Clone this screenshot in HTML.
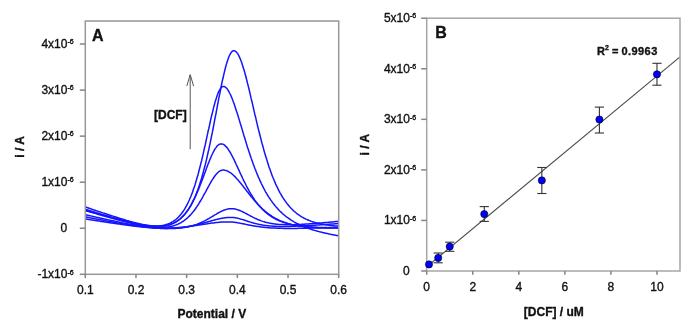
<!DOCTYPE html>
<html><head><meta charset="utf-8"><style>
html,body{margin:0;padding:0;background:#fff;width:698px;height:329px;overflow:hidden}
svg{display:block;will-change:transform}
text{font-family:"Liberation Sans",sans-serif;fill:#111;stroke:#111;stroke-width:0.35px}
</style></head><body>
<svg width="698" height="329" viewBox="0 0 698 329">

<defs><clipPath id="ca"><rect x="85.30" y="21.00" width="253.40" height="253.30"/></clipPath></defs>
<g clip-path="url(#ca)" fill="none" stroke="#1414ff" stroke-width="1.5" stroke-linejoin="round">
<polyline points="82.8,206.1 83.5,206.3 84.2,206.6 84.9,206.8 85.6,207.1 86.4,207.3 87.1,207.6 87.8,207.8 88.5,208.0 89.2,208.3 90.0,208.5 90.7,208.8 91.4,209.0 92.1,209.3 92.8,209.5 93.6,209.7 94.3,210.0 95.0,210.2 95.7,210.5 96.4,210.7 97.2,210.9 97.9,211.2 98.6,211.4 99.3,211.7 100.0,211.9 100.8,212.1 101.5,212.4 102.2,212.6 102.9,212.9 103.6,213.1 104.4,213.3 105.1,213.6 105.8,213.8 106.5,214.0 107.2,214.3 108.0,214.5 108.7,214.7 109.4,215.0 110.1,215.2 110.8,215.4 111.6,215.7 112.3,215.9 113.0,216.1 113.7,216.4 114.4,216.6 115.2,216.8 115.9,217.1 116.6,217.3 117.3,217.5 118.0,217.7 118.8,218.0 119.5,218.2 120.2,218.4 120.9,218.6 121.6,218.9 122.4,219.1 123.1,219.3 123.8,219.5 124.5,219.7 125.2,219.9 126.0,220.2 126.7,220.4 127.4,220.6 128.1,220.8 128.8,221.0 129.6,221.2 130.3,221.4 131.0,221.6 131.7,221.8 132.4,222.0 133.2,222.2 133.9,222.4 134.6,222.6 135.3,222.7 136.0,222.9 136.8,223.1 137.5,223.3 138.2,223.5 138.9,223.6 139.6,223.8 140.4,224.0 141.1,224.1 141.8,224.3 142.5,224.4 143.2,224.6 144.0,224.7 144.7,224.8 145.4,225.0 146.1,225.1 146.8,225.2 147.6,225.3 148.3,225.4 149.0,225.5 149.7,225.6 150.4,225.7 151.2,225.8 151.9,225.9 152.6,226.0 153.3,226.0 154.0,226.1 154.8,226.1 155.5,226.1 156.2,226.2 156.9,226.2 157.6,226.2 158.4,226.2 159.1,226.2 159.8,226.2 160.5,226.1 161.2,226.1 162.0,226.0 162.7,226.0 163.4,225.9 164.1,225.8 164.8,225.7 165.6,225.5 166.3,225.4 167.0,225.3 167.7,225.1 168.4,224.9 169.2,224.7 169.9,224.5 170.6,224.2 171.3,224.0 172.0,223.7 172.8,223.4 173.5,223.1 174.2,222.7 174.9,222.3 175.6,222.0 176.4,221.5 177.1,221.1 177.8,220.6 178.5,220.1 179.2,219.6 180.0,219.0 180.7,218.4 181.4,217.8 182.1,217.1 182.8,216.4 183.6,215.6 184.3,214.8 185.0,214.0 185.7,213.1 186.4,212.2 187.2,211.2 187.9,210.2 188.6,209.1 189.3,208.0 190.0,206.8 190.8,205.5 191.5,204.2 192.2,202.8 192.9,201.4 193.6,199.9 194.4,198.3 195.1,196.7 195.8,195.0 196.5,193.2 197.2,191.3 198.0,189.3 198.7,187.3 199.4,185.2 200.1,183.0 200.8,180.7 201.6,178.3 202.3,175.8 203.0,173.2 203.7,170.6 204.4,167.8 205.2,165.0 205.9,162.1 206.6,159.1 207.3,156.0 208.0,152.8 208.8,149.6 209.5,146.2 210.2,142.8 210.9,139.3 211.6,135.8 212.4,132.2 213.1,128.5 213.8,124.8 214.5,121.0 215.2,117.3 216.0,113.5 216.7,109.7 217.4,105.9 218.1,102.1 218.8,98.4 219.6,94.7 220.3,91.0 221.0,87.4 221.7,83.9 222.4,80.5 223.2,77.3 223.9,74.1 224.6,71.1 225.3,68.2 226.0,65.5 226.8,63.0 227.5,60.7 228.2,58.7 228.9,56.8 229.6,55.2 230.4,53.8 231.1,52.6 231.8,51.8 232.5,51.1 233.2,50.8 234.0,50.7 234.7,50.9 235.4,51.2 236.1,51.8 236.8,52.6 237.6,53.6 238.3,54.7 239.0,56.1 239.7,57.6 240.4,59.3 241.2,61.2 241.9,63.2 242.6,65.4 243.3,67.7 244.0,70.1 244.8,72.6 245.5,75.2 246.2,78.0 246.9,80.8 247.6,83.6 248.4,86.6 249.1,89.5 249.8,92.6 250.5,95.6 251.2,98.7 252.0,101.8 252.7,104.9 253.4,108.0 254.1,111.1 254.8,114.2 255.6,117.2 256.3,120.3 257.0,123.3 257.7,126.3 258.4,129.2 259.2,132.2 259.9,135.0 260.6,137.8 261.3,140.6 262.0,143.3 262.8,146.0 263.5,148.6 264.2,151.2 264.9,153.7 265.6,156.1 266.4,158.5 267.1,160.8 267.8,163.0 268.5,165.2 269.2,167.4 270.0,169.5 270.7,171.5 271.4,173.5 272.1,175.4 272.8,177.2 273.6,179.0 274.3,180.7 275.0,182.4 275.7,184.1 276.4,185.6 277.2,187.2 277.9,188.6 278.6,190.1 279.3,191.4 280.0,192.8 280.8,194.1 281.5,195.3 282.2,196.5 282.9,197.7 283.6,198.8 284.4,199.9 285.1,200.9 285.8,201.9 286.5,202.9 287.2,203.8 288.0,204.7 288.7,205.6 289.4,206.4 290.1,207.2 290.8,208.0 291.6,208.8 292.3,209.5 293.0,210.2 293.7,210.9 294.4,211.5 295.2,212.1 295.9,212.7 296.6,213.3 297.3,213.8 298.0,214.4 298.8,214.9 299.5,215.4 300.2,215.9 300.9,216.3 301.6,216.8 302.4,217.2 303.1,217.6 303.8,218.0 304.5,218.4 305.2,218.7 306.0,219.1 306.7,219.4 307.4,219.7 308.1,220.0 308.8,220.3 309.6,220.6 310.3,220.9 311.0,221.2 311.7,221.4 312.4,221.7 313.2,221.9 313.9,222.1 314.6,222.3 315.3,222.6 316.0,222.8 316.8,222.9 317.5,223.1 318.2,223.3 318.9,223.5 319.6,223.6 320.4,223.8 321.1,223.9 321.8,224.1 322.5,224.2 323.2,224.4 324.0,224.5 324.7,224.6 325.4,224.7 326.1,224.8 326.8,224.9 327.6,225.1 328.3,225.1 329.0,225.2 329.7,225.3 330.4,225.4 331.2,225.5 331.9,225.6 332.6,225.7 333.3,225.7 334.0,225.8 334.8,225.9 335.5,225.9 336.2,226.0 336.9,226.0 337.6,226.1 338.4,226.1 339.1,226.2 339.8,226.2 340.5,226.3 341.2,226.3"/>
<polyline points="82.8,209.6 83.5,209.8 84.2,210.0 84.9,210.2 85.6,210.4 86.4,210.6 87.1,210.8 87.8,211.0 88.5,211.2 89.2,211.3 90.0,211.5 90.7,211.7 91.4,211.9 92.1,212.1 92.8,212.3 93.6,212.5 94.3,212.7 95.0,212.9 95.7,213.1 96.4,213.3 97.2,213.5 97.9,213.7 98.6,213.9 99.3,214.1 100.0,214.3 100.8,214.5 101.5,214.7 102.2,214.9 102.9,215.1 103.6,215.3 104.4,215.5 105.1,215.7 105.8,215.8 106.5,216.0 107.2,216.2 108.0,216.4 108.7,216.6 109.4,216.8 110.1,217.0 110.8,217.2 111.6,217.4 112.3,217.6 113.0,217.8 113.7,218.0 114.4,218.2 115.2,218.4 115.9,218.6 116.6,218.8 117.3,219.0 118.0,219.2 118.8,219.3 119.5,219.5 120.2,219.7 120.9,219.9 121.6,220.1 122.4,220.3 123.1,220.5 123.8,220.7 124.5,220.9 125.2,221.0 126.0,221.2 126.7,221.4 127.4,221.6 128.1,221.8 128.8,221.9 129.6,222.1 130.3,222.3 131.0,222.5 131.7,222.6 132.4,222.8 133.2,223.0 133.9,223.1 134.6,223.3 135.3,223.4 136.0,223.6 136.8,223.8 137.5,223.9 138.2,224.1 138.9,224.2 139.6,224.3 140.4,224.5 141.1,224.6 141.8,224.7 142.5,224.9 143.2,225.0 144.0,225.1 144.7,225.2 145.4,225.3 146.1,225.4 146.8,225.5 147.6,225.6 148.3,225.7 149.0,225.7 149.7,225.8 150.4,225.9 151.2,225.9 151.9,226.0 152.6,226.0 153.3,226.0 154.0,226.1 154.8,226.1 155.5,226.1 156.2,226.1 156.9,226.0 157.6,226.0 158.4,226.0 159.1,225.9 159.8,225.8 160.5,225.8 161.2,225.7 162.0,225.6 162.7,225.4 163.4,225.3 164.1,225.1 164.8,225.0 165.6,224.8 166.3,224.5 167.0,224.3 167.7,224.1 168.4,223.8 169.2,223.5 169.9,223.2 170.6,222.8 171.3,222.4 172.0,222.0 172.8,221.6 173.5,221.2 174.2,220.7 174.9,220.1 175.6,219.6 176.4,219.0 177.1,218.4 177.8,217.7 178.5,217.0 179.2,216.2 180.0,215.4 180.7,214.6 181.4,213.7 182.1,212.7 182.8,211.7 183.6,210.7 184.3,209.6 185.0,208.4 185.7,207.1 186.4,205.8 187.2,204.5 187.9,203.0 188.6,201.5 189.3,200.0 190.0,198.3 190.8,196.6 191.5,194.8 192.2,192.9 192.9,190.9 193.6,188.8 194.4,186.7 195.1,184.5 195.8,182.1 196.5,179.7 197.2,177.3 198.0,174.7 198.7,172.0 199.4,169.3 200.1,166.5 200.8,163.6 201.6,160.7 202.3,157.6 203.0,154.6 203.7,151.4 204.4,148.2 205.2,145.0 205.9,141.7 206.6,138.4 207.3,135.1 208.0,131.8 208.8,128.5 209.5,125.3 210.2,122.0 210.9,118.8 211.6,115.7 212.4,112.7 213.1,109.7 213.8,106.9 214.5,104.2 215.2,101.6 216.0,99.2 216.7,97.0 217.4,94.9 218.1,93.1 218.8,91.4 219.6,90.0 220.3,88.8 221.0,87.8 221.7,87.1 222.4,86.7 223.2,86.4 223.9,86.5 224.6,86.7 225.3,87.1 226.0,87.7 226.8,88.4 227.5,89.4 228.2,90.4 228.9,91.6 229.6,93.0 230.4,94.5 231.1,96.1 231.8,97.8 232.5,99.6 233.2,101.5 234.0,103.5 234.7,105.5 235.4,107.7 236.1,109.9 236.8,112.1 237.6,114.4 238.3,116.7 239.0,119.1 239.7,121.4 240.4,123.8 241.2,126.2 241.9,128.6 242.6,131.0 243.3,133.4 244.0,135.8 244.8,138.2 245.5,140.5 246.2,142.9 246.9,145.2 247.6,147.4 248.4,149.7 249.1,151.9 249.8,154.1 250.5,156.2 251.2,158.3 252.0,160.4 252.7,162.4 253.4,164.4 254.1,166.3 254.8,168.2 255.6,170.1 256.3,171.9 257.0,173.7 257.7,175.4 258.4,177.1 259.2,178.8 259.9,180.4 260.6,181.9 261.3,183.5 262.0,184.9 262.8,186.4 263.5,187.8 264.2,189.2 264.9,190.5 265.6,191.8 266.4,193.1 267.1,194.3 267.8,195.5 268.5,196.6 269.2,197.7 270.0,198.8 270.7,199.9 271.4,200.9 272.1,201.9 272.8,202.9 273.6,203.8 274.3,204.7 275.0,205.6 275.7,206.5 276.4,207.3 277.2,208.1 277.9,208.9 278.6,209.7 279.3,210.5 280.0,211.2 280.8,211.9 281.5,212.6 282.2,213.2 282.9,213.9 283.6,214.5 284.4,215.1 285.1,215.7 285.8,216.3 286.5,216.8 287.2,217.4 288.0,217.9 288.7,218.4 289.4,218.9 290.1,219.4 290.8,219.9 291.6,220.4 292.3,220.8 293.0,221.2 293.7,221.7 294.4,222.1 295.2,222.5 295.9,222.9 296.6,223.3 297.3,223.6 298.0,224.0 298.8,224.3 299.5,224.7 300.2,225.0 300.9,225.4 301.6,225.7 302.4,226.0 303.1,226.3 303.8,226.6 304.5,226.9 305.2,227.2 306.0,227.5 306.7,227.7 307.4,228.0 308.1,228.3 308.8,228.5 309.6,228.8 310.3,229.0 311.0,229.2 311.7,229.5 312.4,229.7 313.2,229.9 313.9,230.2 314.6,230.4 315.3,230.6 316.0,230.8 316.8,231.0 317.5,231.2 318.2,231.4 318.9,231.6 319.6,231.8 320.4,232.0 321.1,232.1 321.8,232.3 322.5,232.5 323.2,232.7 324.0,232.8 324.7,233.0 325.4,233.2 326.1,233.3 326.8,233.5 327.6,233.6 328.3,233.8 329.0,234.0 329.7,234.1 330.4,234.3 331.2,234.4 331.9,234.5 332.6,234.7 333.3,234.8 334.0,235.0 334.8,235.1 335.5,235.2 336.2,235.4 336.9,235.5 337.6,235.6 338.4,235.8 339.1,235.9 339.8,236.0 340.5,236.1 341.2,236.3"/>
<polyline points="82.8,208.5 83.5,208.7 84.2,208.9 84.9,209.1 85.6,209.4 86.4,209.6 87.1,209.8 87.8,210.0 88.5,210.2 89.2,210.5 90.0,210.7 90.7,210.9 91.4,211.1 92.1,211.3 92.8,211.6 93.6,211.8 94.3,212.0 95.0,212.2 95.7,212.4 96.4,212.7 97.2,212.9 97.9,213.1 98.6,213.3 99.3,213.5 100.0,213.8 100.8,214.0 101.5,214.2 102.2,214.4 102.9,214.6 103.6,214.8 104.4,215.1 105.1,215.3 105.8,215.5 106.5,215.7 107.2,215.9 108.0,216.1 108.7,216.3 109.4,216.5 110.1,216.8 110.8,217.0 111.6,217.2 112.3,217.4 113.0,217.6 113.7,217.8 114.4,218.0 115.2,218.2 115.9,218.4 116.6,218.6 117.3,218.9 118.0,219.1 118.8,219.3 119.5,219.5 120.2,219.7 120.9,219.9 121.6,220.1 122.4,220.3 123.1,220.5 123.8,220.7 124.5,220.9 125.2,221.1 126.0,221.2 126.7,221.4 127.4,221.6 128.1,221.8 128.8,222.0 129.6,222.2 130.3,222.4 131.0,222.6 131.7,222.7 132.4,222.9 133.2,223.1 133.9,223.3 134.6,223.4 135.3,223.6 136.0,223.8 136.8,223.9 137.5,224.1 138.2,224.2 138.9,224.4 139.6,224.6 140.4,224.7 141.1,224.8 141.8,225.0 142.5,225.1 143.2,225.2 144.0,225.4 144.7,225.5 145.4,225.6 146.1,225.7 146.8,225.8 147.6,225.9 148.3,226.0 149.0,226.1 149.7,226.2 150.4,226.3 151.2,226.3 151.9,226.4 152.6,226.5 153.3,226.5 154.0,226.6 154.8,226.6 155.5,226.6 156.2,226.6 156.9,226.6 157.6,226.6 158.4,226.6 159.1,226.6 159.8,226.6 160.5,226.5 161.2,226.5 162.0,226.4 162.7,226.3 163.4,226.2 164.1,226.1 164.8,226.0 165.6,225.9 166.3,225.7 167.0,225.5 167.7,225.4 168.4,225.2 169.2,224.9 169.9,224.7 170.6,224.5 171.3,224.2 172.0,223.9 172.8,223.6 173.5,223.2 174.2,222.9 174.9,222.5 175.6,222.1 176.4,221.6 177.1,221.2 177.8,220.7 178.5,220.1 179.2,219.6 180.0,219.0 180.7,218.4 181.4,217.7 182.1,217.0 182.8,216.3 183.6,215.5 184.3,214.7 185.0,213.9 185.7,213.0 186.4,212.0 187.2,211.1 187.9,210.0 188.6,209.0 189.3,207.9 190.0,206.7 190.8,205.5 191.5,204.2 192.2,202.9 192.9,201.5 193.6,200.1 194.4,198.7 195.1,197.2 195.8,195.6 196.5,194.0 197.2,192.4 198.0,190.7 198.7,188.9 199.4,187.2 200.1,185.3 200.8,183.5 201.6,181.6 202.3,179.7 203.0,177.8 203.7,175.9 204.4,173.9 205.2,172.0 205.9,170.0 206.6,168.1 207.3,166.2 208.0,164.3 208.8,162.4 209.5,160.6 210.2,158.9 210.9,157.2 211.6,155.5 212.4,154.0 213.1,152.5 213.8,151.1 214.5,149.8 215.2,148.6 216.0,147.6 216.7,146.6 217.4,145.8 218.1,145.2 218.8,144.6 219.6,144.2 220.3,144.0 221.0,143.9 221.7,143.9 222.4,144.1 223.2,144.3 223.9,144.7 224.6,145.2 225.3,145.9 226.0,146.6 226.8,147.4 227.5,148.3 228.2,149.3 228.9,150.4 229.6,151.5 230.4,152.7 231.1,154.0 231.8,155.4 232.5,156.7 233.2,158.2 234.0,159.6 234.7,161.1 235.4,162.6 236.1,164.2 236.8,165.7 237.6,167.3 238.3,168.9 239.0,170.4 239.7,172.0 240.4,173.6 241.2,175.1 241.9,176.6 242.6,178.2 243.3,179.7 244.0,181.1 244.8,182.6 245.5,184.0 246.2,185.5 246.9,186.8 247.6,188.2 248.4,189.5 249.1,190.8 249.8,192.1 250.5,193.3 251.2,194.5 252.0,195.7 252.7,196.8 253.4,197.9 254.1,199.0 254.8,200.1 255.6,201.1 256.3,202.1 257.0,203.0 257.7,203.9 258.4,204.8 259.2,205.7 259.9,206.5 260.6,207.3 261.3,208.1 262.0,208.9 262.8,209.6 263.5,210.3 264.2,211.0 264.9,211.7 265.6,212.3 266.4,212.9 267.1,213.5 267.8,214.1 268.5,214.6 269.2,215.1 270.0,215.6 270.7,216.1 271.4,216.6 272.1,217.1 272.8,217.5 273.6,217.9 274.3,218.3 275.0,218.7 275.7,219.1 276.4,219.5 277.2,219.8 277.9,220.1 278.6,220.5 279.3,220.8 280.0,221.1 280.8,221.4 281.5,221.6 282.2,221.9 282.9,222.2 283.6,222.4 284.4,222.6 285.1,222.9 285.8,223.1 286.5,223.3 287.2,223.5 288.0,223.7 288.7,223.9 289.4,224.1 290.1,224.2 290.8,224.4 291.6,224.6 292.3,224.7 293.0,224.8 293.7,225.0 294.4,225.1 295.2,225.3 295.9,225.4 296.6,225.5 297.3,225.6 298.0,225.7 298.8,225.8 299.5,225.9 300.2,226.0 300.9,226.1 301.6,226.2 302.4,226.3 303.1,226.4 303.8,226.4 304.5,226.5 305.2,226.6 306.0,226.7 306.7,226.7 307.4,226.8 308.1,226.8 308.8,226.9 309.6,227.0 310.3,227.0 311.0,227.1 311.7,227.1 312.4,227.1 313.2,227.2 313.9,227.2 314.6,227.3 315.3,227.3 316.0,227.3 316.8,227.4 317.5,227.4 318.2,227.4 318.9,227.4 319.6,227.5 320.4,227.5 321.1,227.5 321.8,227.5 322.5,227.6 323.2,227.6 324.0,227.6 324.7,227.6 325.4,227.6 326.1,227.6 326.8,227.6 327.6,227.7 328.3,227.7 329.0,227.7 329.7,227.7 330.4,227.7 331.2,227.7 331.9,227.7 332.6,227.7 333.3,227.7 334.0,227.7 334.8,227.7 335.5,227.7 336.2,227.7 336.9,227.7 337.6,227.7 338.4,227.7 339.1,227.7 339.8,227.7 340.5,227.7 341.2,227.7"/>
<polyline points="82.8,209.9 83.5,210.1 84.2,210.3 84.9,210.5 85.6,210.7 86.4,210.9 87.1,211.2 87.8,211.4 88.5,211.6 89.2,211.8 90.0,212.0 90.7,212.2 91.4,212.4 92.1,212.6 92.8,212.8 93.6,213.0 94.3,213.2 95.0,213.4 95.7,213.6 96.4,213.8 97.2,214.0 97.9,214.3 98.6,214.5 99.3,214.7 100.0,214.9 100.8,215.1 101.5,215.3 102.2,215.5 102.9,215.7 103.6,215.9 104.4,216.1 105.1,216.3 105.8,216.5 106.5,216.7 107.2,216.9 108.0,217.1 108.7,217.3 109.4,217.5 110.1,217.7 110.8,217.9 111.6,218.1 112.3,218.3 113.0,218.5 113.7,218.7 114.4,218.9 115.2,219.1 115.9,219.3 116.6,219.5 117.3,219.7 118.0,219.9 118.8,220.1 119.5,220.2 120.2,220.4 120.9,220.6 121.6,220.8 122.4,221.0 123.1,221.2 123.8,221.4 124.5,221.6 125.2,221.7 126.0,221.9 126.7,222.1 127.4,222.3 128.1,222.5 128.8,222.7 129.6,222.8 130.3,223.0 131.0,223.2 131.7,223.4 132.4,223.5 133.2,223.7 133.9,223.9 134.6,224.0 135.3,224.2 136.0,224.3 136.8,224.5 137.5,224.7 138.2,224.8 138.9,225.0 139.6,225.1 140.4,225.3 141.1,225.4 141.8,225.5 142.5,225.7 143.2,225.8 144.0,225.9 144.7,226.1 145.4,226.2 146.1,226.3 146.8,226.4 147.6,226.5 148.3,226.6 149.0,226.7 149.7,226.8 150.4,226.9 151.2,227.0 151.9,227.1 152.6,227.1 153.3,227.2 154.0,227.3 154.8,227.3 155.5,227.4 156.2,227.4 156.9,227.5 157.6,227.5 158.4,227.5 159.1,227.5 159.8,227.5 160.5,227.5 161.2,227.5 162.0,227.5 162.7,227.5 163.4,227.4 164.1,227.4 164.8,227.3 165.6,227.3 166.3,227.2 167.0,227.1 167.7,227.0 168.4,226.9 169.2,226.8 169.9,226.7 170.6,226.5 171.3,226.3 172.0,226.2 172.8,226.0 173.5,225.8 174.2,225.6 174.9,225.3 175.6,225.1 176.4,224.8 177.1,224.5 177.8,224.2 178.5,223.9 179.2,223.5 180.0,223.2 180.7,222.8 181.4,222.4 182.1,221.9 182.8,221.5 183.6,221.0 184.3,220.5 185.0,219.9 185.7,219.4 186.4,218.8 187.2,218.2 187.9,217.5 188.6,216.8 189.3,216.1 190.0,215.4 190.8,214.6 191.5,213.8 192.2,212.9 192.9,212.1 193.6,211.2 194.4,210.2 195.1,209.3 195.8,208.2 196.5,207.2 197.2,206.1 198.0,205.0 198.7,203.9 199.4,202.7 200.1,201.5 200.8,200.3 201.6,199.1 202.3,197.8 203.0,196.5 203.7,195.2 204.4,193.9 205.2,192.6 205.9,191.3 206.6,189.9 207.3,188.6 208.0,187.3 208.8,185.9 209.5,184.6 210.2,183.4 210.9,182.1 211.6,180.9 212.4,179.7 213.1,178.6 213.8,177.5 214.5,176.5 215.2,175.5 216.0,174.6 216.7,173.7 217.4,173.0 218.1,172.3 218.8,171.7 219.6,171.2 220.3,170.8 221.0,170.5 221.7,170.3 222.4,170.1 223.2,170.1 223.9,170.1 224.6,170.2 225.3,170.4 226.0,170.6 226.8,170.8 227.5,171.1 228.2,171.4 228.9,171.8 229.6,172.3 230.4,172.7 231.1,173.2 231.8,173.8 232.5,174.4 233.2,175.0 234.0,175.7 234.7,176.4 235.4,177.1 236.1,177.9 236.8,178.7 237.6,179.5 238.3,180.3 239.0,181.2 239.7,182.0 240.4,182.9 241.2,183.8 241.9,184.7 242.6,185.6 243.3,186.5 244.0,187.5 244.8,188.4 245.5,189.3 246.2,190.3 246.9,191.2 247.6,192.1 248.4,193.0 249.1,194.0 249.8,194.9 250.5,195.8 251.2,196.7 252.0,197.5 252.7,198.4 253.4,199.3 254.1,200.1 254.8,201.0 255.6,201.8 256.3,202.6 257.0,203.4 257.7,204.2 258.4,204.9 259.2,205.7 259.9,206.4 260.6,207.1 261.3,207.8 262.0,208.5 262.8,209.2 263.5,209.8 264.2,210.4 264.9,211.1 265.6,211.7 266.4,212.2 267.1,212.8 267.8,213.4 268.5,213.9 269.2,214.4 270.0,214.9 270.7,215.4 271.4,215.9 272.1,216.4 272.8,216.8 273.6,217.2 274.3,217.7 275.0,218.1 275.7,218.5 276.4,218.8 277.2,219.2 277.9,219.6 278.6,219.9 279.3,220.3 280.0,220.6 280.8,220.9 281.5,221.2 282.2,221.5 282.9,221.8 283.6,222.0 284.4,222.3 285.1,222.5 285.8,222.8 286.5,223.0 287.2,223.2 288.0,223.5 288.7,223.7 289.4,223.9 290.1,224.1 290.8,224.2 291.6,224.4 292.3,224.6 293.0,224.8 293.7,224.9 294.4,225.1 295.2,225.2 295.9,225.4 296.6,225.5 297.3,225.6 298.0,225.7 298.8,225.9 299.5,226.0 300.2,226.1 300.9,226.2 301.6,226.3 302.4,226.4 303.1,226.5 303.8,226.6 304.5,226.7 305.2,226.7 306.0,226.8 306.7,226.9 307.4,227.0 308.1,227.0 308.8,227.1 309.6,227.1 310.3,227.2 311.0,227.3 311.7,227.3 312.4,227.4 313.2,227.4 313.9,227.5 314.6,227.5 315.3,227.5 316.0,227.6 316.8,227.6 317.5,227.6 318.2,227.7 318.9,227.7 319.6,227.7 320.4,227.7 321.1,227.8 321.8,227.8 322.5,227.8 323.2,227.8 324.0,227.9 324.7,227.9 325.4,227.9 326.1,227.9 326.8,227.9 327.6,227.9 328.3,227.9 329.0,227.9 329.7,227.9 330.4,227.9 331.2,227.9 331.9,228.0 332.6,228.0 333.3,228.0 334.0,228.0 334.8,228.0 335.5,228.0 336.2,228.0 336.9,227.9 337.6,227.9 338.4,227.9 339.1,227.9 339.8,227.9 340.5,227.9 341.2,227.9"/>
<polyline points="82.8,214.0 83.5,214.2 84.2,214.4 84.9,214.6 85.6,214.7 86.4,214.9 87.1,215.1 87.8,215.2 88.5,215.4 89.2,215.6 90.0,215.7 90.7,215.9 91.4,216.1 92.1,216.2 92.8,216.4 93.6,216.5 94.3,216.7 95.0,216.9 95.7,217.0 96.4,217.2 97.2,217.4 97.9,217.5 98.6,217.7 99.3,217.8 100.0,218.0 100.8,218.2 101.5,218.3 102.2,218.5 102.9,218.7 103.6,218.8 104.4,219.0 105.1,219.1 105.8,219.3 106.5,219.4 107.2,219.6 108.0,219.8 108.7,219.9 109.4,220.1 110.1,220.2 110.8,220.4 111.6,220.5 112.3,220.7 113.0,220.8 113.7,221.0 114.4,221.1 115.2,221.3 115.9,221.4 116.6,221.6 117.3,221.7 118.0,221.9 118.8,222.0 119.5,222.2 120.2,222.3 120.9,222.5 121.6,222.6 122.4,222.8 123.1,222.9 123.8,223.1 124.5,223.2 125.2,223.3 126.0,223.5 126.7,223.6 127.4,223.8 128.1,223.9 128.8,224.0 129.6,224.2 130.3,224.3 131.0,224.5 131.7,224.6 132.4,224.7 133.2,224.8 133.9,225.0 134.6,225.1 135.3,225.2 136.0,225.4 136.8,225.5 137.5,225.6 138.2,225.7 138.9,225.8 139.6,226.0 140.4,226.1 141.1,226.2 141.8,226.3 142.5,226.4 143.2,226.5 144.0,226.6 144.7,226.7 145.4,226.8 146.1,226.9 146.8,227.0 147.6,227.1 148.3,227.2 149.0,227.3 149.7,227.4 150.4,227.5 151.2,227.6 151.9,227.6 152.6,227.7 153.3,227.8 154.0,227.9 154.8,227.9 155.5,228.0 156.2,228.1 156.9,228.1 157.6,228.2 158.4,228.2 159.1,228.3 159.8,228.3 160.5,228.4 161.2,228.4 162.0,228.4 162.7,228.5 163.4,228.5 164.1,228.5 164.8,228.6 165.6,228.6 166.3,228.6 167.0,228.6 167.7,228.6 168.4,228.6 169.2,228.6 169.9,228.6 170.6,228.6 171.3,228.6 172.0,228.6 172.8,228.5 173.5,228.5 174.2,228.5 174.9,228.4 175.6,228.4 176.4,228.3 177.1,228.3 177.8,228.2 178.5,228.2 179.2,228.1 180.0,228.0 180.7,228.0 181.4,227.9 182.1,227.8 182.8,227.7 183.6,227.6 184.3,227.5 185.0,227.4 185.7,227.2 186.4,227.1 187.2,227.0 187.9,226.8 188.6,226.7 189.3,226.5 190.0,226.3 190.8,226.1 191.5,226.0 192.2,225.8 192.9,225.6 193.6,225.3 194.4,225.1 195.1,224.9 195.8,224.6 196.5,224.4 197.2,224.1 198.0,223.9 198.7,223.6 199.4,223.3 200.1,223.0 200.8,222.7 201.6,222.3 202.3,222.0 203.0,221.7 203.7,221.3 204.4,220.9 205.2,220.6 205.9,220.2 206.6,219.8 207.3,219.4 208.0,219.0 208.8,218.6 209.5,218.2 210.2,217.7 210.9,217.3 211.6,216.9 212.4,216.4 213.1,216.0 213.8,215.6 214.5,215.1 215.2,214.7 216.0,214.3 216.7,213.8 217.4,213.4 218.1,213.0 218.8,212.6 219.6,212.2 220.3,211.8 221.0,211.5 221.7,211.1 222.4,210.8 223.2,210.5 223.9,210.2 224.6,209.9 225.3,209.7 226.0,209.5 226.8,209.3 227.5,209.1 228.2,209.0 228.9,208.8 229.6,208.7 230.4,208.7 231.1,208.7 231.8,208.7 232.5,208.7 233.2,208.8 234.0,208.8 234.7,209.0 235.4,209.1 236.1,209.3 236.8,209.5 237.6,209.7 238.3,209.9 239.0,210.2 239.7,210.5 240.4,210.8 241.2,211.1 241.9,211.4 242.6,211.8 243.3,212.1 244.0,212.5 244.8,212.9 245.5,213.2 246.2,213.6 246.9,214.0 247.6,214.4 248.4,214.8 249.1,215.2 249.8,215.6 250.5,216.0 251.2,216.3 252.0,216.7 252.7,217.1 253.4,217.4 254.1,217.8 254.8,218.2 255.6,218.5 256.3,218.8 257.0,219.1 257.7,219.5 258.4,219.8 259.2,220.0 259.9,220.3 260.6,220.6 261.3,220.9 262.0,221.1 262.8,221.4 263.5,221.6 264.2,221.8 264.9,222.0 265.6,222.2 266.4,222.4 267.1,222.6 267.8,222.7 268.5,222.9 269.2,223.1 270.0,223.2 270.7,223.3 271.4,223.5 272.1,223.6 272.8,223.7 273.6,223.8 274.3,223.9 275.0,224.0 275.7,224.1 276.4,224.2 277.2,224.2 277.9,224.3 278.6,224.4 279.3,224.4 280.0,224.5 280.8,224.5 281.5,224.5 282.2,224.6 282.9,224.6 283.6,224.6 284.4,224.7 285.1,224.7 285.8,224.7 286.5,224.7 287.2,224.7 288.0,224.7 288.7,224.7 289.4,224.7 290.1,224.7 290.8,224.7 291.6,224.7 292.3,224.7 293.0,224.7 293.7,224.7 294.4,224.6 295.2,224.6 295.9,224.6 296.6,224.6 297.3,224.5 298.0,224.5 298.8,224.5 299.5,224.4 300.2,224.4 300.9,224.4 301.6,224.3 302.4,224.3 303.1,224.3 303.8,224.2 304.5,224.2 305.2,224.1 306.0,224.1 306.7,224.0 307.4,224.0 308.1,223.9 308.8,223.9 309.6,223.8 310.3,223.8 311.0,223.7 311.7,223.7 312.4,223.6 313.2,223.6 313.9,223.5 314.6,223.5 315.3,223.4 316.0,223.4 316.8,223.3 317.5,223.3 318.2,223.2 318.9,223.1 319.6,223.1 320.4,223.0 321.1,223.0 321.8,222.9 322.5,222.8 323.2,222.8 324.0,222.7 324.7,222.6 325.4,222.6 326.1,222.5 326.8,222.5 327.6,222.4 328.3,222.3 329.0,222.3 329.7,222.2 330.4,222.1 331.2,222.1 331.9,222.0 332.6,221.9 333.3,221.9 334.0,221.8 334.8,221.7 335.5,221.6 336.2,221.6 336.9,221.5 337.6,221.4 338.4,221.4 339.1,221.3 339.8,221.2 340.5,221.1 341.2,221.1"/>
<polyline points="82.8,216.3 83.5,216.5 84.2,216.6 84.9,216.8 85.6,216.9 86.4,217.0 87.1,217.2 87.8,217.3 88.5,217.5 89.2,217.6 90.0,217.8 90.7,217.9 91.4,218.0 92.1,218.2 92.8,218.3 93.6,218.5 94.3,218.6 95.0,218.7 95.7,218.9 96.4,219.0 97.2,219.2 97.9,219.3 98.6,219.4 99.3,219.6 100.0,219.7 100.8,219.8 101.5,220.0 102.2,220.1 102.9,220.2 103.6,220.4 104.4,220.5 105.1,220.6 105.8,220.8 106.5,220.9 107.2,221.1 108.0,221.2 108.7,221.3 109.4,221.4 110.1,221.6 110.8,221.7 111.6,221.8 112.3,222.0 113.0,222.1 113.7,222.2 114.4,222.4 115.2,222.5 115.9,222.6 116.6,222.7 117.3,222.9 118.0,223.0 118.8,223.1 119.5,223.2 120.2,223.4 120.9,223.5 121.6,223.6 122.4,223.7 123.1,223.9 123.8,224.0 124.5,224.1 125.2,224.2 126.0,224.3 126.7,224.5 127.4,224.6 128.1,224.7 128.8,224.8 129.6,224.9 130.3,225.0 131.0,225.1 131.7,225.3 132.4,225.4 133.2,225.5 133.9,225.6 134.6,225.7 135.3,225.8 136.0,225.9 136.8,226.0 137.5,226.1 138.2,226.2 138.9,226.3 139.6,226.4 140.4,226.5 141.1,226.6 141.8,226.7 142.5,226.8 143.2,226.9 144.0,226.9 144.7,227.0 145.4,227.1 146.1,227.2 146.8,227.3 147.6,227.3 148.3,227.4 149.0,227.5 149.7,227.6 150.4,227.6 151.2,227.7 151.9,227.7 152.6,227.8 153.3,227.9 154.0,227.9 154.8,228.0 155.5,228.0 156.2,228.1 156.9,228.1 157.6,228.1 158.4,228.2 159.1,228.2 159.8,228.2 160.5,228.3 161.2,228.3 162.0,228.3 162.7,228.3 163.4,228.3 164.1,228.3 164.8,228.4 165.6,228.4 166.3,228.4 167.0,228.4 167.7,228.4 168.4,228.3 169.2,228.3 169.9,228.3 170.6,228.3 171.3,228.3 172.0,228.2 172.8,228.2 173.5,228.2 174.2,228.1 174.9,228.1 175.6,228.0 176.4,228.0 177.1,227.9 177.8,227.9 178.5,227.8 179.2,227.8 180.0,227.7 180.7,227.6 181.4,227.5 182.1,227.5 182.8,227.4 183.6,227.3 184.3,227.2 185.0,227.1 185.7,227.0 186.4,226.9 187.2,226.8 187.9,226.6 188.6,226.5 189.3,226.4 190.0,226.3 190.8,226.1 191.5,226.0 192.2,225.8 192.9,225.7 193.6,225.6 194.4,225.4 195.1,225.2 195.8,225.1 196.5,224.9 197.2,224.7 198.0,224.6 198.7,224.4 199.4,224.2 200.1,224.0 200.8,223.8 201.6,223.6 202.3,223.4 203.0,223.2 203.7,223.0 204.4,222.8 205.2,222.6 205.9,222.4 206.6,222.2 207.3,222.0 208.0,221.8 208.8,221.6 209.5,221.4 210.2,221.2 210.9,221.0 211.6,220.8 212.4,220.6 213.1,220.4 213.8,220.2 214.5,220.0 215.2,219.8 216.0,219.6 216.7,219.4 217.4,219.2 218.1,219.0 218.8,218.9 219.6,218.7 220.3,218.6 221.0,218.4 221.7,218.3 222.4,218.2 223.2,218.0 223.9,217.9 224.6,217.8 225.3,217.7 226.0,217.7 226.8,217.6 227.5,217.5 228.2,217.5 228.9,217.5 229.6,217.4 230.4,217.4 231.1,217.4 231.8,217.4 232.5,217.5 233.2,217.5 234.0,217.6 234.7,217.7 235.4,217.8 236.1,217.9 236.8,218.1 237.6,218.2 238.3,218.4 239.0,218.6 239.7,218.8 240.4,219.0 241.2,219.2 241.9,219.4 242.6,219.6 243.3,219.8 244.0,220.1 244.8,220.3 245.5,220.5 246.2,220.8 246.9,221.0 247.6,221.2 248.4,221.5 249.1,221.7 249.8,221.9 250.5,222.1 251.2,222.4 252.0,222.6 252.7,222.8 253.4,223.0 254.1,223.2 254.8,223.4 255.6,223.6 256.3,223.7 257.0,223.9 257.7,224.1 258.4,224.2 259.2,224.4 259.9,224.5 260.6,224.7 261.3,224.8 262.0,224.9 262.8,225.1 263.5,225.2 264.2,225.3 264.9,225.4 265.6,225.5 266.4,225.6 267.1,225.7 267.8,225.7 268.5,225.8 269.2,225.9 270.0,225.9 270.7,226.0 271.4,226.1 272.1,226.1 272.8,226.2 273.6,226.2 274.3,226.2 275.0,226.3 275.7,226.3 276.4,226.3 277.2,226.4 277.9,226.4 278.6,226.4 279.3,226.4 280.0,226.4 280.8,226.4 281.5,226.4 282.2,226.4 282.9,226.4 283.6,226.4 284.4,226.4 285.1,226.4 285.8,226.4 286.5,226.4 287.2,226.4 288.0,226.4 288.7,226.4 289.4,226.4 290.1,226.4 290.8,226.3 291.6,226.3 292.3,226.3 293.0,226.3 293.7,226.2 294.4,226.2 295.2,226.2 295.9,226.2 296.6,226.1 297.3,226.1 298.0,226.1 298.8,226.1 299.5,226.0 300.2,226.0 300.9,226.0 301.6,225.9 302.4,225.9 303.1,225.8 303.8,225.8 304.5,225.8 305.2,225.7 306.0,225.7 306.7,225.7 307.4,225.6 308.1,225.6 308.8,225.5 309.6,225.5 310.3,225.5 311.0,225.4 311.7,225.4 312.4,225.3 313.2,225.3 313.9,225.2 314.6,225.2 315.3,225.2 316.0,225.1 316.8,225.1 317.5,225.0 318.2,225.0 318.9,224.9 319.6,224.9 320.4,224.8 321.1,224.8 321.8,224.7 322.5,224.7 323.2,224.6 324.0,224.6 324.7,224.5 325.4,224.5 326.1,224.5 326.8,224.4 327.6,224.4 328.3,224.3 329.0,224.2 329.7,224.2 330.4,224.1 331.2,224.1 331.9,224.0 332.6,224.0 333.3,223.9 334.0,223.9 334.8,223.8 335.5,223.8 336.2,223.7 336.9,223.7 337.6,223.6 338.4,223.6 339.1,223.5 339.8,223.5 340.5,223.4 341.2,223.3"/>
<polyline points="82.8,218.5 83.5,218.6 84.2,218.7 84.9,218.9 85.6,219.0 86.4,219.1 87.1,219.2 87.8,219.3 88.5,219.4 89.2,219.5 90.0,219.7 90.7,219.8 91.4,219.9 92.1,220.0 92.8,220.1 93.6,220.2 94.3,220.3 95.0,220.5 95.7,220.6 96.4,220.7 97.2,220.8 97.9,220.9 98.6,221.0 99.3,221.1 100.0,221.2 100.8,221.4 101.5,221.5 102.2,221.6 102.9,221.7 103.6,221.8 104.4,221.9 105.1,222.0 105.8,222.1 106.5,222.2 107.2,222.3 108.0,222.4 108.7,222.6 109.4,222.7 110.1,222.8 110.8,222.9 111.6,223.0 112.3,223.1 113.0,223.2 113.7,223.3 114.4,223.4 115.2,223.5 115.9,223.6 116.6,223.7 117.3,223.8 118.0,223.9 118.8,224.0 119.5,224.1 120.2,224.2 120.9,224.3 121.6,224.4 122.4,224.5 123.1,224.6 123.8,224.7 124.5,224.8 125.2,224.9 126.0,225.0 126.7,225.1 127.4,225.2 128.1,225.3 128.8,225.4 129.6,225.5 130.3,225.6 131.0,225.7 131.7,225.8 132.4,225.9 133.2,226.0 133.9,226.0 134.6,226.1 135.3,226.2 136.0,226.3 136.8,226.4 137.5,226.5 138.2,226.5 138.9,226.6 139.6,226.7 140.4,226.8 141.1,226.8 141.8,226.9 142.5,227.0 143.2,227.0 144.0,227.1 144.7,227.2 145.4,227.2 146.1,227.3 146.8,227.4 147.6,227.4 148.3,227.5 149.0,227.5 149.7,227.6 150.4,227.6 151.2,227.7 151.9,227.7 152.6,227.8 153.3,227.8 154.0,227.9 154.8,227.9 155.5,227.9 156.2,228.0 156.9,228.0 157.6,228.0 158.4,228.0 159.1,228.0 159.8,228.1 160.5,228.1 161.2,228.1 162.0,228.1 162.7,228.1 163.4,228.1 164.1,228.1 164.8,228.1 165.6,228.1 166.3,228.1 167.0,228.1 167.7,228.1 168.4,228.1 169.2,228.0 169.9,228.0 170.6,228.0 171.3,228.0 172.0,227.9 172.8,227.9 173.5,227.9 174.2,227.8 174.9,227.8 175.6,227.8 176.4,227.7 177.1,227.7 177.8,227.6 178.5,227.6 179.2,227.5 180.0,227.4 180.7,227.4 181.4,227.3 182.1,227.2 182.8,227.2 183.6,227.1 184.3,227.0 185.0,226.9 185.7,226.9 186.4,226.8 187.2,226.7 187.9,226.6 188.6,226.5 189.3,226.4 190.0,226.3 190.8,226.2 191.5,226.1 192.2,226.1 192.9,226.0 193.6,225.8 194.4,225.7 195.1,225.6 195.8,225.5 196.5,225.4 197.2,225.3 198.0,225.2 198.7,225.1 199.4,225.0 200.1,224.9 200.8,224.8 201.6,224.6 202.3,224.5 203.0,224.4 203.7,224.3 204.4,224.2 205.2,224.1 205.9,224.0 206.6,223.9 207.3,223.8 208.0,223.6 208.8,223.5 209.5,223.4 210.2,223.3 210.9,223.2 211.6,223.1 212.4,223.0 213.1,222.9 213.8,222.9 214.5,222.8 215.2,222.7 216.0,222.6 216.7,222.5 217.4,222.4 218.1,222.4 218.8,222.3 219.6,222.3 220.3,222.2 221.0,222.1 221.7,222.1 222.4,222.0 223.2,222.0 223.9,222.0 224.6,221.9 225.3,221.9 226.0,221.9 226.8,221.9 227.5,221.9 228.2,221.9 228.9,221.9 229.6,221.9 230.4,221.9 231.1,222.0 231.8,222.0 232.5,222.1 233.2,222.2 234.0,222.3 234.7,222.3 235.4,222.4 236.1,222.5 236.8,222.6 237.6,222.8 238.3,222.9 239.0,223.0 239.7,223.1 240.4,223.3 241.2,223.4 241.9,223.6 242.6,223.7 243.3,223.8 244.0,224.0 244.8,224.1 245.5,224.3 246.2,224.4 246.9,224.6 247.6,224.7 248.4,224.9 249.1,225.0 249.8,225.2 250.5,225.3 251.2,225.4 252.0,225.6 252.7,225.7 253.4,225.8 254.1,226.0 254.8,226.1 255.6,226.2 256.3,226.3 257.0,226.4 257.7,226.5 258.4,226.6 259.2,226.7 259.9,226.8 260.6,226.9 261.3,227.0 262.0,227.1 262.8,227.2 263.5,227.3 264.2,227.3 264.9,227.4 265.6,227.5 266.4,227.6 267.1,227.6 267.8,227.7 268.5,227.7 269.2,227.8 270.0,227.8 270.7,227.9 271.4,227.9 272.1,228.0 272.8,228.0 273.6,228.0 274.3,228.1 275.0,228.1 275.7,228.1 276.4,228.2 277.2,228.2 277.9,228.2 278.6,228.2 279.3,228.3 280.0,228.3 280.8,228.3 281.5,228.3 282.2,228.3 282.9,228.3 283.6,228.4 284.4,228.4 285.1,228.4 285.8,228.4 286.5,228.4 287.2,228.4 288.0,228.4 288.7,228.4 289.4,228.4 290.1,228.4 290.8,228.4 291.6,228.4 292.3,228.4 293.0,228.4 293.7,228.4 294.4,228.4 295.2,228.4 295.9,228.4 296.6,228.4 297.3,228.4 298.0,228.3 298.8,228.3 299.5,228.3 300.2,228.3 300.9,228.3 301.6,228.3 302.4,228.3 303.1,228.3 303.8,228.3 304.5,228.2 305.2,228.2 306.0,228.2 306.7,228.2 307.4,228.2 308.1,228.2 308.8,228.2 309.6,228.1 310.3,228.1 311.0,228.1 311.7,228.1 312.4,228.1 313.2,228.1 313.9,228.0 314.6,228.0 315.3,228.0 316.0,228.0 316.8,228.0 317.5,228.0 318.2,227.9 318.9,227.9 319.6,227.9 320.4,227.9 321.1,227.9 321.8,227.8 322.5,227.8 323.2,227.8 324.0,227.8 324.7,227.8 325.4,227.7 326.1,227.7 326.8,227.7 327.6,227.7 328.3,227.6 329.0,227.6 329.7,227.6 330.4,227.6 331.2,227.6 331.9,227.5 332.6,227.5 333.3,227.5 334.0,227.5 334.8,227.4 335.5,227.4 336.2,227.4 336.9,227.4 337.6,227.4 338.4,227.3 339.1,227.3 339.8,227.3 340.5,227.3 341.2,227.2"/>
</g>
<rect x="85.30" y="21.00" width="253.40" height="253.30" fill="none" stroke="#979797" stroke-width="1.5"/>
<line x1="79.80" y1="44.03" x2="85.30" y2="44.03" stroke="#858585" stroke-width="1.5"/>
<text x="73.70" y="47.88" font-size="12" text-anchor="end">4x10<tspan font-size="7" dy="-3.6">-6</tspan></text>
<line x1="79.80" y1="90.08" x2="85.30" y2="90.08" stroke="#858585" stroke-width="1.5"/>
<text x="73.70" y="93.93" font-size="12" text-anchor="end">3x10<tspan font-size="7" dy="-3.6">-6</tspan></text>
<line x1="79.80" y1="136.14" x2="85.30" y2="136.14" stroke="#858585" stroke-width="1.5"/>
<text x="73.70" y="139.99" font-size="12" text-anchor="end">2x10<tspan font-size="7" dy="-3.6">-6</tspan></text>
<line x1="79.80" y1="182.19" x2="85.30" y2="182.19" stroke="#858585" stroke-width="1.5"/>
<text x="73.70" y="186.04" font-size="12" text-anchor="end">1x10<tspan font-size="7" dy="-3.6">-6</tspan></text>
<line x1="79.80" y1="228.25" x2="85.30" y2="228.25" stroke="#858585" stroke-width="1.5"/>
<text x="67.10" y="232.10" font-size="12" text-anchor="end">0</text>
<line x1="79.80" y1="274.30" x2="85.30" y2="274.30" stroke="#858585" stroke-width="1.5"/>
<text x="73.70" y="278.15" font-size="12" text-anchor="end">-1x10<tspan font-size="7" dy="-3.6">-6</tspan></text>
<line x1="85.30" y1="274.30" x2="85.30" y2="278.10" stroke="#858585" stroke-width="1.5"/>
<text x="85.30" y="294.20" font-size="12" text-anchor="middle">0.1</text>
<line x1="135.98" y1="274.30" x2="135.98" y2="278.10" stroke="#858585" stroke-width="1.5"/>
<text x="135.98" y="294.20" font-size="12" text-anchor="middle">0.2</text>
<line x1="186.66" y1="274.30" x2="186.66" y2="278.10" stroke="#858585" stroke-width="1.5"/>
<text x="186.66" y="294.20" font-size="12" text-anchor="middle">0.3</text>
<line x1="237.34" y1="274.30" x2="237.34" y2="278.10" stroke="#858585" stroke-width="1.5"/>
<text x="237.34" y="294.20" font-size="12" text-anchor="middle">0.4</text>
<line x1="288.02" y1="274.30" x2="288.02" y2="278.10" stroke="#858585" stroke-width="1.5"/>
<text x="288.02" y="294.20" font-size="12" text-anchor="middle">0.5</text>
<line x1="338.70" y1="274.30" x2="338.70" y2="278.10" stroke="#858585" stroke-width="1.5"/>
<text x="338.70" y="294.20" font-size="12" text-anchor="middle">0.6</text>
<text x="211.85" y="318.30" font-size="12" font-weight="bold" text-anchor="middle">Potential / V</text>
<text transform="translate(23.60 146.90) rotate(-90)" font-size="12" font-weight="bold" text-anchor="middle">i / A</text>
<text x="91.90" y="40.90" font-size="16" font-weight="bold">A</text>
<text x="154.00" y="118.50" font-size="12" font-weight="bold">[DCF]</text>
<line x1="190.20" y1="149.20" x2="190.20" y2="75.10" stroke="#555" stroke-width="1.0"/>
<polyline points="186.80,86.10 190.20,74.60 193.60,86.10" fill="none" stroke="#555" stroke-width="1.0"/>
<line x1="429.00" y1="264.95" x2="680.00" y2="56.90" stroke="#4a4a4a" stroke-width="1.1"/>
<rect x="426.70" y="18.20" width="253.30" height="252.80" fill="none" stroke="#a6a6a6" stroke-width="1.5"/>
<line x1="421.20" y1="18.20" x2="426.70" y2="18.20" stroke="#858585" stroke-width="1.5"/>
<text x="416.20" y="22.05" font-size="12" text-anchor="end">5x10<tspan font-size="7" dy="-3.6">-6</tspan></text>
<line x1="421.20" y1="68.76" x2="426.70" y2="68.76" stroke="#858585" stroke-width="1.5"/>
<text x="416.20" y="72.61" font-size="12" text-anchor="end">4x10<tspan font-size="7" dy="-3.6">-6</tspan></text>
<line x1="421.20" y1="119.32" x2="426.70" y2="119.32" stroke="#858585" stroke-width="1.5"/>
<text x="416.20" y="123.17" font-size="12" text-anchor="end">3x10<tspan font-size="7" dy="-3.6">-6</tspan></text>
<line x1="421.20" y1="169.88" x2="426.70" y2="169.88" stroke="#858585" stroke-width="1.5"/>
<text x="416.20" y="173.73" font-size="12" text-anchor="end">2x10<tspan font-size="7" dy="-3.6">-6</tspan></text>
<line x1="421.20" y1="220.44" x2="426.70" y2="220.44" stroke="#858585" stroke-width="1.5"/>
<text x="416.20" y="224.29" font-size="12" text-anchor="end">1x10<tspan font-size="7" dy="-3.6">-6</tspan></text>
<line x1="421.20" y1="271.00" x2="426.70" y2="271.00" stroke="#858585" stroke-width="1.5"/>
<text x="409.60" y="274.85" font-size="12" text-anchor="end">0</text>
<line x1="426.70" y1="271.00" x2="426.70" y2="274.80" stroke="#858585" stroke-width="1.5"/>
<text x="426.70" y="291.00" font-size="12" text-anchor="middle">0</text>
<line x1="472.75" y1="271.00" x2="472.75" y2="274.80" stroke="#858585" stroke-width="1.5"/>
<text x="472.75" y="291.00" font-size="12" text-anchor="middle">2</text>
<line x1="518.81" y1="271.00" x2="518.81" y2="274.80" stroke="#858585" stroke-width="1.5"/>
<text x="518.81" y="291.00" font-size="12" text-anchor="middle">4</text>
<line x1="564.86" y1="271.00" x2="564.86" y2="274.80" stroke="#858585" stroke-width="1.5"/>
<text x="564.86" y="291.00" font-size="12" text-anchor="middle">6</text>
<line x1="610.92" y1="271.00" x2="610.92" y2="274.80" stroke="#858585" stroke-width="1.5"/>
<text x="610.92" y="291.00" font-size="12" text-anchor="middle">8</text>
<line x1="656.97" y1="271.00" x2="656.97" y2="274.80" stroke="#858585" stroke-width="1.5"/>
<text x="656.97" y="291.00" font-size="12" text-anchor="middle">10</text>
<text x="553.80" y="315.70" font-size="12" font-weight="bold" text-anchor="middle">[DCF] / uM</text>
<text transform="translate(369.20 144.70) rotate(-90)" font-size="12" font-weight="bold" text-anchor="middle">i / A</text>
<text x="435.20" y="38.20" font-size="16" font-weight="bold">B</text>
<text x="597.00" y="54.60" font-size="11" font-weight="bold">R<tspan font-size="7" dy="-4.5">2</tspan><tspan dy="4.5"> = </tspan><tspan letter-spacing="0.45">0.9963</tspan></text>
<line x1="429.00" y1="264.40" x2="429.00" y2="264.40" stroke="#333" stroke-width="1.1"/>
<line x1="438.21" y1="253.00" x2="438.21" y2="262.80" stroke="#333" stroke-width="1.1"/>
<line x1="433.61" y1="253.00" x2="442.81" y2="253.00" stroke="#333" stroke-width="1.1"/>
<line x1="433.61" y1="262.80" x2="442.81" y2="262.80" stroke="#333" stroke-width="1.1"/>
<line x1="449.73" y1="242.20" x2="449.73" y2="251.30" stroke="#333" stroke-width="1.1"/>
<line x1="445.13" y1="242.20" x2="454.33" y2="242.20" stroke="#333" stroke-width="1.1"/>
<line x1="445.13" y1="251.30" x2="454.33" y2="251.30" stroke="#333" stroke-width="1.1"/>
<line x1="484.27" y1="206.60" x2="484.27" y2="221.40" stroke="#333" stroke-width="1.1"/>
<line x1="479.67" y1="206.60" x2="488.87" y2="206.60" stroke="#333" stroke-width="1.1"/>
<line x1="479.67" y1="221.40" x2="488.87" y2="221.40" stroke="#333" stroke-width="1.1"/>
<line x1="541.84" y1="167.50" x2="541.84" y2="193.50" stroke="#333" stroke-width="1.1"/>
<line x1="537.24" y1="167.50" x2="546.44" y2="167.50" stroke="#333" stroke-width="1.1"/>
<line x1="537.24" y1="193.50" x2="546.44" y2="193.50" stroke="#333" stroke-width="1.1"/>
<line x1="599.40" y1="107.10" x2="599.40" y2="133.00" stroke="#333" stroke-width="1.1"/>
<line x1="594.80" y1="107.10" x2="604.00" y2="107.10" stroke="#333" stroke-width="1.1"/>
<line x1="594.80" y1="133.00" x2="604.00" y2="133.00" stroke="#333" stroke-width="1.1"/>
<line x1="656.97" y1="63.30" x2="656.97" y2="85.20" stroke="#333" stroke-width="1.1"/>
<line x1="652.37" y1="63.30" x2="661.57" y2="63.30" stroke="#333" stroke-width="1.1"/>
<line x1="652.37" y1="85.20" x2="661.57" y2="85.20" stroke="#333" stroke-width="1.1"/>
<circle cx="429.00" cy="264.40" r="3.6" fill="#0000ff" stroke="#000" stroke-width="0.6"/>
<circle cx="438.21" cy="257.90" r="3.6" fill="#0000ff" stroke="#000" stroke-width="0.6"/>
<circle cx="449.73" cy="246.60" r="3.6" fill="#0000ff" stroke="#000" stroke-width="0.6"/>
<circle cx="484.27" cy="214.10" r="3.6" fill="#0000ff" stroke="#000" stroke-width="0.6"/>
<circle cx="541.84" cy="180.40" r="3.6" fill="#0000ff" stroke="#000" stroke-width="0.6"/>
<circle cx="599.40" cy="119.50" r="3.6" fill="#0000ff" stroke="#000" stroke-width="0.6"/>
<circle cx="656.97" cy="74.30" r="3.6" fill="#0000ff" stroke="#000" stroke-width="0.6"/>
</svg></body></html>
